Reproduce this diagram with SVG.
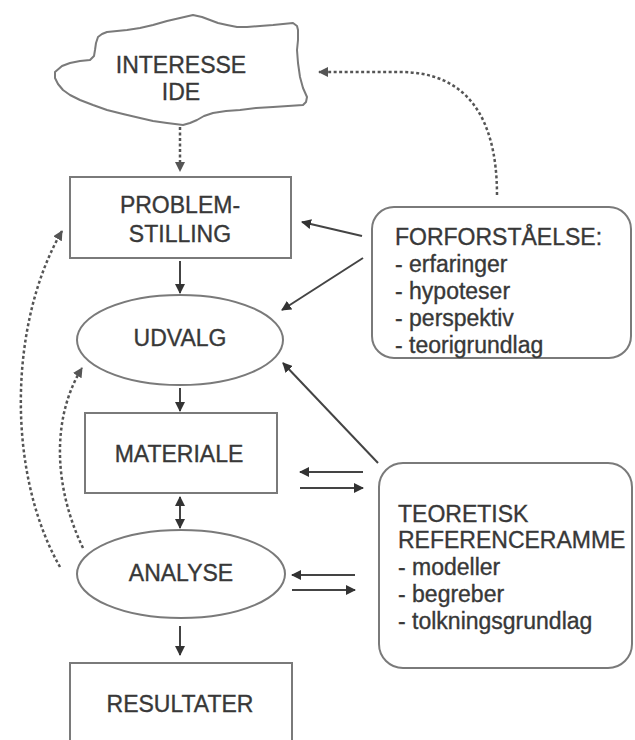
<svg xmlns="http://www.w3.org/2000/svg" width="635" height="740" viewBox="0 0 635 740">
<style>
text{font-family:"Liberation Sans",Arial,sans-serif;font-size:23px;fill:#383838;stroke:#383838;stroke-width:0.35}
.c{text-anchor:middle}
.box{fill:#fff;stroke:#7a7a7a;stroke-width:2}
.ln{fill:none;stroke:#444;stroke-width:2}
.dot{fill:none;stroke:#555;stroke-width:2.5;stroke-dasharray:3 2.5}
</style>
<defs>
<marker id="ah" viewBox="0 0 10 10" refX="9" refY="5" markerWidth="5" markerHeight="5" orient="auto-start-reverse" markerUnits="strokeWidth">
<path d="M0,0 L10,5 L0,10 z" fill="#333"/>
</marker>
<marker id="ah2" viewBox="0 0 10 10" refX="9" refY="5" markerWidth="4" markerHeight="4" orient="auto" markerUnits="strokeWidth">
<path d="M0,0 L10,5 L0,10 z" fill="#555"/>
</marker>
</defs>
<rect width="635" height="740" fill="#fff"/>
<g id="interesse">
<path class="box" stroke-linejoin="round" d="M55,72 L62,66 L70,63 L80,61 L90,60 L94,56 L95,50 L96,43 L98,37 L102,34 L107,32 L117,31 L127,30 L140,28 L153,25 L167,21 L180,18 L193,15 L202,17 L210,20 L218,23 L227,25 L237,27 L247,27 L260,26 L273,25 L283,24 L293,23 L297,26 L298,30 L298,40 L297,50 L298,63 L300,77 L303,88 L307,97 L306,102 L303,105 L288,106 L273,107 L256,108 L240,110 L226,111 L213,113 L204,116 L197,120 L190,123 L183,125 L175,124 L167,123 L153,121 L140,118 L123,114 L107,110 L93,105 L80,100 L70,95 L63,90 L58,84 L55,78 Z"/>
<text class="c" x="181" y="73">INTERESSE</text>
<text class="c" x="181" y="100">IDE</text>
</g>
<g id="problemstilling">
<rect class="box" x="70" y="177" width="221" height="81"/>
<text class="c" x="180" y="213">PROBLEM-</text>
<text class="c" x="180" y="242">STILLING</text>
</g>
<g id="udvalg">
<ellipse class="box" cx="180" cy="340" rx="103" ry="45"/>
<text class="c" x="180" y="346">UDVALG</text>
</g>
<g id="materiale">
<rect class="box" x="85" y="413" width="192" height="80"/>
<text class="c" x="179" y="462">MATERIALE</text>
</g>
<g id="analyse">
<ellipse class="box" cx="181" cy="574" rx="104" ry="44"/>
<text class="c" x="181" y="581">ANALYSE</text>
</g>
<g id="resultater">
<rect class="box" x="70" y="663" width="222" height="82"/>
<text class="c" x="180" y="712">RESULTATER</text>
</g>
<g id="forforstaaelse">
<rect class="box" x="372" y="207" width="259" height="151" rx="22"/>
<text x="395" y="245">FORFORSTÅELSE:</text>
<text x="395" y="272">- erfaringer</text>
<text x="395" y="299">- hypoteser</text>
<text x="395" y="326">- perspektiv</text>
<text x="395" y="353">- teorigrundlag</text>
</g>
<g id="teoretisk">
<rect class="box" x="379" y="463" width="253" height="205" rx="24"/>
<text x="398" y="522">TEORETISK</text>
<text x="398" y="548">REFERENCERAMME</text>
<text x="398" y="575">- modeller</text>
<text x="398" y="602">- begreber</text>
<text x="398" y="629">- tolkningsgrundlag</text>
</g>
<g id="connectors">
<path class="dot" d="M180,127 L180,171" marker-end="url(#ah2)"/>
<path class="dot" d="M497,195 C497,115 465,72 400,72 L319,72" marker-end="url(#ah2)"/>
<path class="dot" d="M60,567 C5,470 10,320 62,231" marker-end="url(#ah2)"/>
<path class="dot" d="M83,548 C55,490 50,420 82,368" marker-end="url(#ah2)"/>
<path class="ln" d="M362,236 L302,222" marker-end="url(#ah)"/>
<path class="ln" d="M363,258 L282,310" marker-end="url(#ah)"/>
<path class="ln" d="M378,463 L283,363" marker-end="url(#ah)"/>
<path class="ln" d="M363,472 L300,472" marker-end="url(#ah)"/>
<path class="ln" d="M300,488 L363,488" marker-end="url(#ah)"/>
<path class="ln" d="M355,575 L292,575" marker-end="url(#ah)"/>
<path class="ln" d="M292,590 L355,590" marker-end="url(#ah)"/>
<path class="ln" d="M180,261 L180,293" marker-end="url(#ah)"/>
<path class="ln" d="M180,388 L180,411" marker-end="url(#ah)"/>
<path class="ln" d="M180,497 L180,528" marker-start="url(#ah)" marker-end="url(#ah)"/>
<path class="ln" d="M180,626 L180,655" marker-end="url(#ah)"/>
</g>
</svg>
